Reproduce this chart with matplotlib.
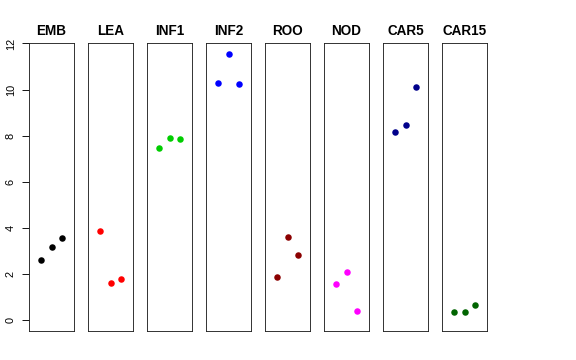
import matplotlib
matplotlib.use("Agg")
import matplotlib.pyplot as plt

plt.rcParams["font.family"] = ["Liberation Sans", "DejaVu Sans"]

# panels, each with three replicate values
groups = ["EMB", "LEA", "INF1", "INF2", "ROO", "NOD", "CAR5", "CAR15"]
values = {
    "EMB":   [2.60, 3.15, 3.55],
    "LEA":   [3.86, 1.59, 1.76],
    "INF1":  [7.46, 7.90, 7.87],
    "INF2":  [10.28, 11.55, 10.22],
    "ROO":   [1.85, 3.61, 2.82],
    "NOD":   [1.55, 2.07, 0.39],
    "CAR5":  [8.17, 8.48, 10.09],
    "CAR15": [0.35, 0.35, 0.64],
}
colors = ["#000000", "#FF0000", "#00CD00", "#0000FF",
          "#8B0000", "#FF00FF", "#00008B", "#006400"]
replicate = [1, 2, 3]
yticks = [0, 2, 4, 6, 8, 10, 12]

W, H = 576, 360
fig = plt.figure(figsize=(W / 72, H / 72), dpi=72)

for i, (g, c) in enumerate(zip(groups, colors)):
    left = 29 + 59 * i
    ax = fig.add_axes([left / W, 1 - 331 / H, 45 / W, 288 / H])
    ax.plot(replicate, values[g], "o", color=c, markersize=6.5, markeredgewidth=0)
    ax.set_xlim(-0.15, 4.15)
    ax.set_ylim(-0.48, 12.02)
    ax.set_xticks([])
    ax.set_title(g, fontsize=13.5, fontweight="bold", pad=7.5)
    for s in ax.spines.values():
        s.set_linewidth(0.9)
        s.set_color("#222222")
    if i == 0:
        ax.set_yticks(yticks)
        ax.set_yticklabels([str(t) for t in yticks], rotation=90, va="center", fontsize=11)
        ax.tick_params(axis="y", length=7, width=0.9, pad=6)
    else:
        ax.set_yticks([])

fig.savefig("out.png", dpi=72)
